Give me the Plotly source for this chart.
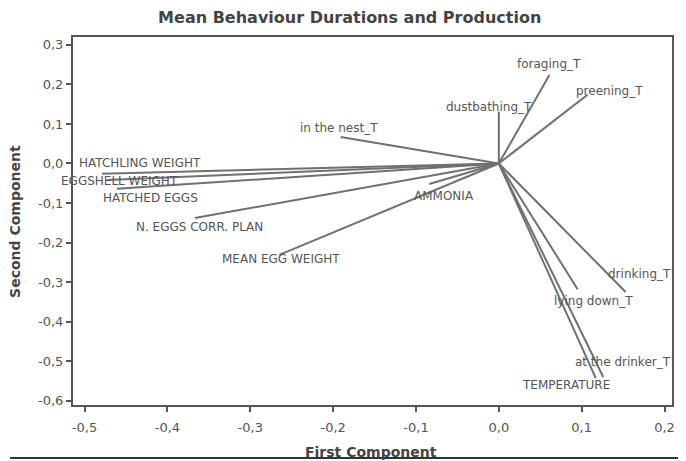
import plotly.graph_objects as go

variables = ["foraging_T", "preening_T", "dustbathing_T", "in the nest_T", "AMMONIA",
             "MEAN EGG WEIGHT", "N. EGGS CORR. PLAN", "HATCHED EGGS", "EGGSHELL WEIGHT",
             "HATCHLING WEIGHT", "drinking_T", "lying down_T", "at the drinker_T", "TEMPERATURE"]
first_component = [0.061, 0.107, 0.000, -0.191, -0.084,
                   -0.265, -0.367, -0.461, -0.473,
                   -0.479, 0.153, 0.095, 0.126, 0.117]
second_component = [0.224, 0.174, 0.131, 0.067, -0.052,
                     -0.231, -0.138, -0.064, -0.042,
                     -0.026, -0.325, -0.318, -0.540, -0.543]

x_ticks = [-0.5, -0.4, -0.3, -0.2, -0.1, 0.0, 0.1, 0.2]
x_tick_labels = ["-0,5", "-0,4", "-0,3", "-0,2", "-0,1", "0,0", "0,1", "0,2"]
y_ticks = [0.3, 0.2, 0.1, 0.0, -0.1, -0.2, -0.3, -0.4, -0.5, -0.6]
y_tick_labels = ["0,3", "0,2", "0,1", "0,0", "-0,1", "-0,2", "-0,3", "-0,4", "-0,5", "-0,6"]

# label offsets in pixels (x right, y up) from each vector's tip
label_shift = [(0, 11), (22, 4), (-10, 5), (-2, 9), (15, -12),
               (2, -4), (5, -9), (34, -9), (13, -1),
               (38, 11), (14, 18), (16, -12), (20, 15), (-30, -7)]

lx, ly = [], []
for xv, yv in zip(first_component, second_component):
    lx += [0, xv, None]
    ly += [0, yv, None]

FONT = "DejaVu Sans"
frame = "#555555"
fig = go.Figure()
fig.add_trace(go.Scatter(x=lx, y=ly, mode="lines",
                         line=dict(color="#707070", width=2),
                         hoverinfo="skip", showlegend=False))

for name, xv, yv, (dx, dy) in zip(variables, first_component, second_component, label_shift):
    fig.add_annotation(x=xv, y=yv, text=name, showarrow=False,
                       xshift=dx, yshift=dy,
                       font=dict(family=FONT, size=12, color="#555555"))

# axis titles
fig.add_annotation(xref="paper", yref="paper", x=0.497, y=-0.128,
                   text="<b>First Component</b>", showarrow=False,
                   xanchor="center", yanchor="middle",
                   font=dict(family=FONT, size=14, color="#444444"))
fig.add_annotation(xref="paper", yref="paper", x=-0.097, y=0.5,
                   text="<b>Second Component</b>", showarrow=False, textangle=-90,
                   xanchor="center", yanchor="middle",
                   font=dict(family=FONT, size=14, color="#444444"))

fig.add_shape(type="line", xref="paper", yref="paper",
              x0=-0.105, x1=1.02, y0=-0.144, y1=-0.144,
              line=dict(color="#333333", width=2))

# the page body has an 8px margin; size the figure to the visible area
fig.update_layout(
    width=670, height=453,
    margin=dict(l=65, r=6, t=29, b=56, autoexpand=False),
    paper_bgcolor="white", plot_bgcolor="white",
    title=dict(text="<b>Mean Behaviour Durations and Production</b>",
               x=0.51, xanchor="center", y=0.980, yanchor="middle",
               font=dict(family=FONT, size=16, color="#444444")),
    font=dict(family=FONT, color="#555555"),
    xaxis=dict(range=[-0.514, 0.209], tickvals=x_ticks, ticktext=x_tick_labels,
               showgrid=False, zeroline=False, showline=True, mirror=True,
               linecolor=frame, linewidth=2, ticks="outside", ticklen=5,
               tickwidth=2, tickcolor=frame, automargin=False,
               ticklabelstandoff=4,
               tickfont=dict(family=FONT, size=13, color="#555555")),
    yaxis=dict(range=[-0.611, 0.320], tickvals=y_ticks, ticktext=y_tick_labels,
               showgrid=False, zeroline=False, showline=True, mirror=True,
               linecolor=frame, linewidth=2, ticks="outside", ticklen=5,
               tickwidth=2, tickcolor=frame, automargin=False,
               tickfont=dict(family=FONT, size=13, color="#555555")),
)

fig.write_html("out.html")
